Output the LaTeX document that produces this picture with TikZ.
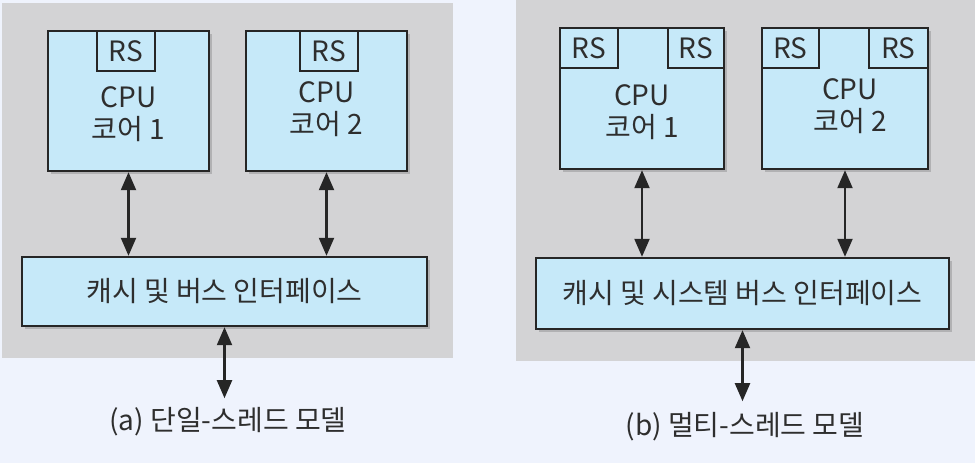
\documentclass[tikz,border=0pt]{standalone}
\usepackage{fontspec}
\setmainfont{Noto Sans CJK KR}
\usetikzlibrary{arrows.meta,positioning,shadows}
\definecolor{bgblue}{HTML}{EFF3FD}
\definecolor{panelgray}{HTML}{D3D3D5}
\definecolor{boxblue}{HTML}{C6E9F9}
\definecolor{edgegray}{HTML}{262626}
\definecolor{textgray}{HTML}{2E2E2E}
\tikzset
{
    panel/.style   = {fill=panelgray, draw=none},
    core/.style    = {rectangle, draw=edgegray, fill=boxblue, line width=2.4pt, inner sep=0pt, minimum height=140pt, drop shadow={shadow xshift=3pt, shadow yshift=-3pt, opacity=0.4}},
    rsbox/.style   = {rectangle, draw=edgegray, fill=boxblue, line width=2.4pt, inner sep=0pt, minimum height=40pt, anchor=north, text=textgray},
    bus/.style     = {rectangle, draw=edgegray, fill=boxblue, line width=2.4pt, inner sep=0pt, text=textgray, drop shadow={shadow xshift=3pt, shadow yshift=-3pt, opacity=0.4}},
    corelabel/.style = {align=center, text=textgray, inner sep=0pt},
    caption/.style = {text=textgray, inner sep=0pt},
    arrow/.style   = {line width=2.2pt, draw=edgegray, {Triangle[length=18pt,width=15pt]}-{Triangle[length=18pt,width=15pt]}}
}
\begin{document}
\begin{tikzpicture}[x=1pt, y=-1pt, font=\fontsize{28}{32}\selectfont]
	\useasboundingbox [fill=bgblue] (0,0) rectangle (975,463);
	\fill [panel] (2,3) rectangle (453,358);
	\fill [panel] (516,0) rectangle (975,361);

	\node (c1) [core, minimum width=161pt] at (128.5,101) {};
	\node (c2) [core, minimum width=161pt] at (326.5,101) {};
	\node (rs1) [rsbox, minimum width=58pt] at ([xshift=-2.5pt]c1.north) {RS};
	\node (rs2) [rsbox, minimum width=58pt] at ([xshift=2.5pt]c2.north) {RS};
	\node (t1) [corelabel] at ([yshift=-13pt]c1.center) {CPU\\코어 1};
	\node (t2) [corelabel] at ([yshift=-8pt]c2.center) {CPU\\코어 2};
	\node (bus1) [bus, minimum width=405pt, minimum height=69pt] at (224.5,291.5) {캐시 및 버스 인터페이스};
	\coordinate (o1) at ([yshift=-71pt]bus1.south);
	\node (cap1) [caption] at (228,422) {(a) 단일-스레드 모델};

	\draw [arrow] (c1.south) -- (c1.south |- bus1.north);
	\draw [arrow] (c2.south) -- (c2.south |- bus1.north);
	\draw [arrow] (bus1.south) -- (o1);

	\node (c3) [core, minimum width=164pt, minimum height=141pt] at (642,98.5) {};
	\node (c4) [core, minimum width=166pt, minimum height=141pt] at (845,98.5) {};
	\node (rs3) [rsbox, minimum width=58pt, anchor=north west] at (c3.north west) {RS};
	\node (rs4) [rsbox, minimum width=56pt, anchor=north east] at (c3.north east) {RS};
	\node (rs5) [rsbox, minimum width=57pt, anchor=north west] at (c4.north west) {RS};
	\node (rs6) [rsbox, minimum width=59pt, anchor=north east] at (c4.north east) {RS};
	\node (t3) [corelabel] at ([yshift=-14pt]c3.center) {CPU\\코어 1};
	\node (t4) [corelabel] at ([xshift=5pt, yshift=-8pt]c4.center) {CPU\\코어 2};
	\node (bus2) [bus, minimum width=413pt, minimum height=71pt] at (742.5,293.5) {캐시 및 시스템 버스 인터페이스};
	\coordinate (o2) at ([yshift=-71pt]bus2.south);
	\node (cap2) [caption] at (745,427) {(b) 멀티-스레드 모델};

	\draw [arrow] (c3.south) -- (c3.south |- bus2.north);
	\draw [arrow] (c4.south) -- (c4.south |- bus2.north);
	\draw [arrow] (bus2.south) -- (o2);
\end{tikzpicture}
\end{document}
